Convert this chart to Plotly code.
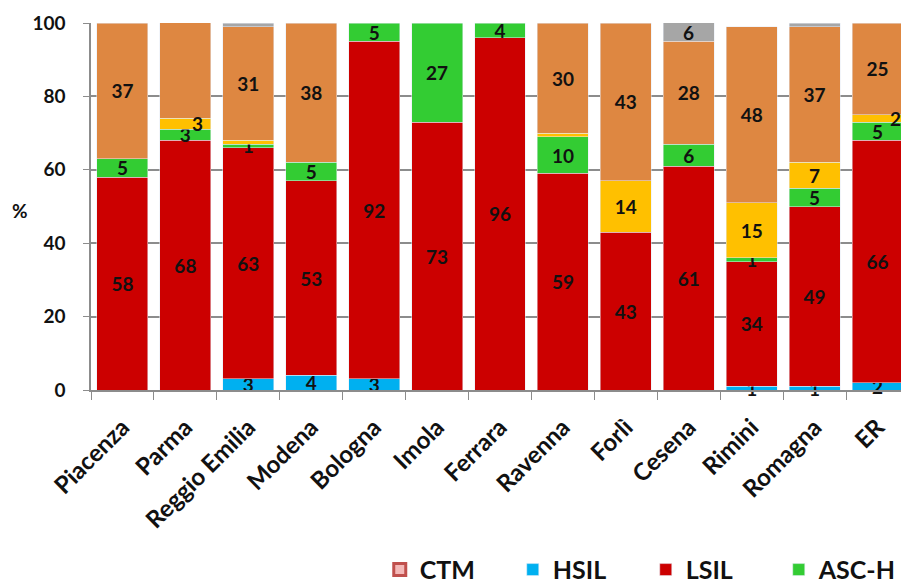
import plotly.graph_objects as go

categories = ["Piacenza", "Parma", "Reggio Emilia", "Modena", "Bologna", "Imola",
              "Ferrara", "Ravenna", "Forlì", "Cesena", "Rimini", "Romagna", "ER"]

ctm      = [0, 0, 0, 0, 0, 0, 0, 0, 0, 0, 0, 0, 0]
hsil     = [0, 0, 3, 4, 3, 0, 0, 0, 0, 0, 1, 1, 2]
lsil     = [58, 68, 63, 53, 92, 73, 96, 59, 43, 61, 34, 49, 66]
asch     = [5, 3, 1, 5, 5, 27, 4, 10, 0, 6, 1, 5, 5]
ascus    = [0, 3, 1, 0, 0, 0, 0, 1, 14, 0, 15, 7, 2]
negativo = [37, 27, 31, 38, 0, 0, 0, 30, 43, 28, 48, 37, 25]
inadeg   = [0, 0, 1, 0, 0, 0, 0, 0, 0, 6, 0, 1, 0]

# segments too thin to carry a printed label in the original
unlabeled = {("ascus", "Reggio Emilia"), ("inadeg", "Reggio Emilia"),
             ("ascus", "Ravenna"), ("inadeg", "Romagna")}
# labels placed as annotations (sideways nudge in px, as in the original)
label_shift = {("ascus", "Parma"): 12, ("ascus", "ER"): 18, ("inadeg", "Cesena"): 0}

series = [
    ("ctm", "CTM", ctm, "#F4B9B8", True),
    ("hsil", "HSIL", hsil, "#00B0F0", True),
    ("lsil", "LSIL", lsil, "#CC0000", True),
    ("asch", "ASC-H", asch, "#33CC33", True),
    ("ascus", "ASC-US", ascus, "#FFC000", False),
    ("negativo", "Negativo", negativo, "#DE8741", False),
    ("inadeg", "Inadeguato", inadeg, "#A6A6A6", False),
]

LBL = dict(family="Lato", size=19, color="#111111", weight="bold")

fig = go.Figure()
annotations = []
base = [0] * len(categories)
for key, name, vals, color, inleg in series:
    ys = [v if v else None for v in vals]
    txt = []
    for i, (v, c) in enumerate(zip(vals, categories)):
        if not v or (key, c) in unlabeled:
            txt.append("")
        elif (key, c) in label_shift:
            txt.append("")
            mid = min(base[i] + v / 2, (base[i] + 100) / 2)
            annotations.append(dict(x=c, y=mid, xref="x", yref="y", text=str(v),
                                    showarrow=False, xshift=label_shift[(key, c)], font=LBL))
        else:
            txt.append(str(v))
    base = [b + v for b, v in zip(base, vals)]
    marker = dict(color=color)
    if key == "ctm":
        marker["line"] = dict(color="#C0504D", width=3)
    fig.add_trace(go.Bar(
        x=categories, y=ys, name=name, marker=marker, text=txt,
        texttemplate="%{text}", textposition="inside", insidetextanchor="middle",
        textangle=0, constraintext="none", textfont=LBL,
        cliponaxis=(key != "hsil"),
        showlegend=inleg, hoverinfo="x+y+name",
    ))

annotations.append(dict(text="%", xref="paper", yref="paper", x=-0.099, y=0.49,
                        showarrow=False, font=dict(family="Lato", size=19, weight="bold", color="#111111")))

fig.update_layout(
    barmode="stack",
    bargap=0.19,
    width=901, height=578,
    margin=dict(l=83, r=0, t=15, b=196, autoexpand=False),
    paper_bgcolor="white", plot_bgcolor="white",
    uniformtext=dict(mode="show", minsize=19),
    font=dict(family="Lato", color="#111111"),
    legend=dict(orientation="h", x=0.353, xanchor="left", y=-0.49, yanchor="middle",
                font=dict(family="Lato", size=25, weight="bold", color="#111111"),
                traceorder="normal", itemwidth=30, entrywidth=88, entrywidthmode="pixels"),
    annotations=annotations,
)
fig.update_yaxes(range=[0, 100], tickvals=[0, 20, 40, 60, 80, 100], automargin=False,
                 showgrid=True, gridcolor="#8C8C8C", gridwidth=1.5,
                 showline=True, linecolor="#8C8C8C", linewidth=1.5,
                 ticks="outside", ticklen=6, tickcolor="#8C8C8C", ticklabelstandoff=14,
                 tickfont=dict(family="Lato", size=19, weight="bold", color="#111111"),
                 zeroline=False)
fig.update_xaxes(showline=True, linecolor="#8C8C8C", linewidth=1.5, automargin=False,
                 ticks="outside", tickson="boundaries", ticklen=8, tickcolor="#8C8C8C",
                 tickangle=-45, ticklabelstandoff=12,
                 tickfont=dict(family="Lato", size=24, weight="bold", color="#111111"))

fig.write_html("out.html")
